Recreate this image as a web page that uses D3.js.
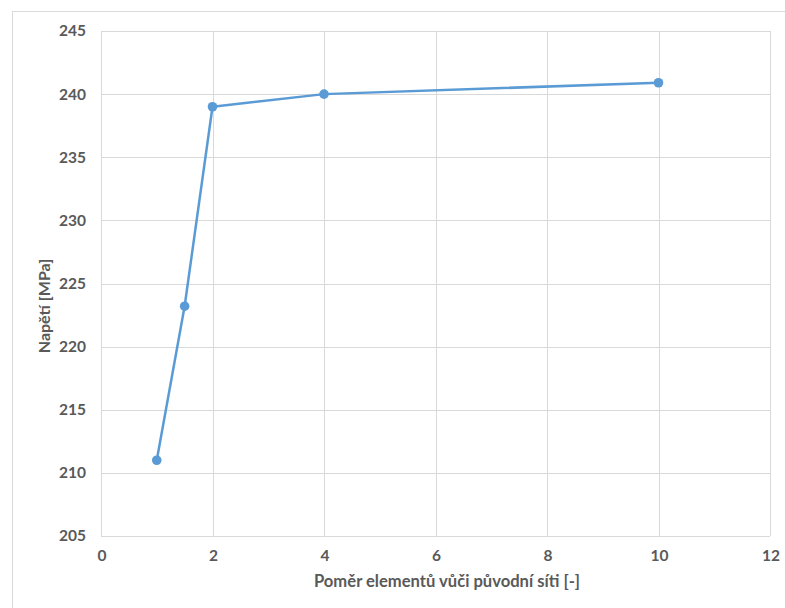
<!DOCTYPE html>
<html>
<head>
<meta charset="utf-8">
<script src="https://cdn.jsdelivr.net/npm/d3@7"></script>
<style>
  html, body { margin: 0; padding: 0; background: #fff; }
  svg { display: block; }
  text { font-family: Lato, "Open Sans", sans-serif; fill: #595959; font-weight: bold; }
</style>
</head>
<body>
<svg id="chart" width="785" height="608"></svg>
<script>
// Mesh refinement ratio vs. stress
const ratios = [1, 1.5, 2, 4, 10];
const stress = [211, 223.2, 239, 240, 240.9];
const xTicks = [0, 2, 4, 6, 8, 10, 12];
const yTicks = [205, 210, 215, 220, 225, 230, 235, 240, 245];
const xTitle = "Poměr elementů vůči původní síti [-]";
const yTitle = "Napětí [MPa]";

const svg = d3.select("#chart");
const W = 785, H = 608;
const m = { left: 101, top: 31, right: 770, bottom: 536 };

// chart frame
svg.append("rect")
  .attr("x", 12.5).attr("y", 11.5)
  .attr("width", W).attr("height", H)
  .attr("fill", "none").attr("stroke", "#d9d9d9").attr("stroke-width", 1);

const x = d3.scaleLinear().domain([0, 12]).range([m.left, m.right]);
const y = d3.scaleLinear().domain([205, 245]).range([m.bottom, m.top]);

// gridlines
const grid = svg.append("g").attr("stroke", "#d9d9d9").attr("stroke-width", 1);
grid.selectAll("line.h").data(yTicks).join("line")
  .attr("x1", m.left).attr("x2", m.right)
  .attr("y1", d => Math.round(y(d)) + 0.5).attr("y2", d => Math.round(y(d)) + 0.5);
grid.selectAll("line.v").data(xTicks).join("line")
  .attr("y1", m.top).attr("y2", m.bottom)
  .attr("x1", d => Math.round(x(d)) + 0.5).attr("x2", d => Math.round(x(d)) + 0.5);

// axes (labels only, no tick marks)
const xAxis = d3.axisBottom(x).tickValues(xTicks).tickSize(0).tickPadding(14);
const gx = svg.append("g").attr("transform", `translate(0.5,${m.bottom})`).call(xAxis);
gx.select(".domain").remove();
gx.selectAll("text").attr("font-size", 15.5).style("font-family", "Lato, 'Open Sans', sans-serif");

const yAxis = d3.axisLeft(y).tickValues(yTicks).tickSize(0).tickPadding(15);
const gy = svg.append("g").attr("transform", `translate(${m.left},0)`).call(yAxis);
gy.select(".domain").remove();
gy.selectAll("text").attr("font-size", 15.5).style("font-family", "Lato, 'Open Sans', sans-serif");

// axis titles
svg.append("text")
  .attr("x", 447).attr("y", 587)
  .attr("text-anchor", "middle").attr("font-size", 16.6)
  .text(xTitle);
svg.append("text")
  .attr("transform", `translate(50,${306}) rotate(-90)`)
  .attr("text-anchor", "middle").attr("font-size", 16)
  .text(yTitle);

// series
const pts = ratios.map((r, i) => [r, stress[i]]);
const line = d3.line().x(d => x(d[0])).y(d => y(d[1]));
svg.append("path").datum(pts)
  .attr("d", line).attr("fill", "none")
  .attr("stroke", "#5b9bd5").attr("stroke-width", 2.5)
  .attr("stroke-linejoin", "round");
svg.append("g").selectAll("circle").data(pts).join("circle")
  .attr("cx", d => x(d[0])).attr("cy", d => y(d[1]))
  .attr("r", 4.8).attr("fill", "#5b9bd5");
</script>
</body>
</html>
